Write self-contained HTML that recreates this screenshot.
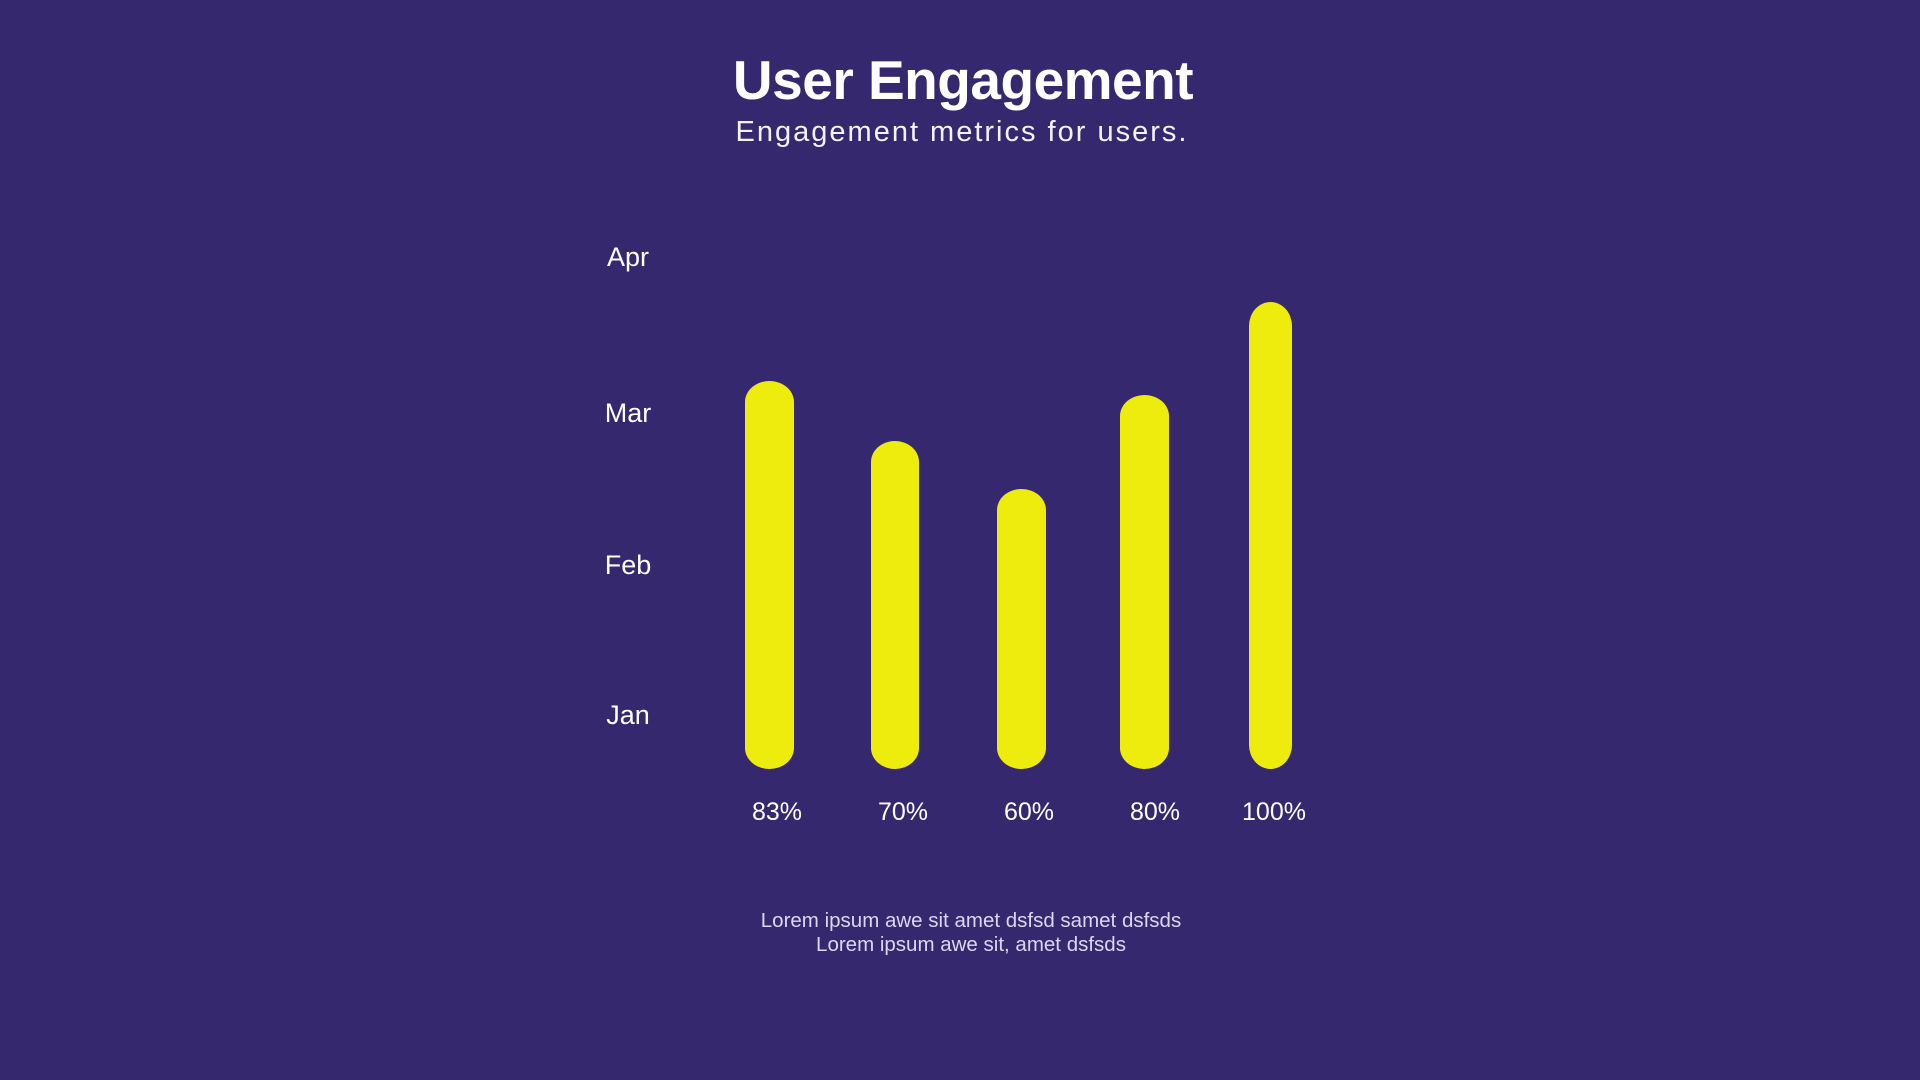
<!DOCTYPE html>
<html>
<head>
<meta charset="utf-8">
<style>
  html, body { margin: 0; padding: 0; }
  body {
    width: 1920px; height: 1080px; overflow: hidden;
    background: #35286e;
    position: relative;
    font-family: "Liberation Sans", "DejaVu Sans", sans-serif;
    color: #ffffff;
  }
  .t { position: absolute; white-space: nowrap; text-align: center; }
  .title { left: 463px; width: 1000px; top: 53px; font-size: 55px; line-height: 55px; font-weight: bold; letter-spacing: -0.5px; }
  .sub { left: 462px; width: 1000px; top: 118px; font-size: 29px; line-height: 29px; letter-spacing: 2px; color: #f4f2fa; }
  .ylab { left: 578px; width: 100px; font-size: 27px; line-height: 27px; }
  .pct { width: 120px; top: 800px; font-size: 25px; line-height: 25px; }
  .foot { left: 471px; width: 1000px; font-size: 20.5px; line-height: 20.5px; color: #dcd7f0; }
  .bar { position: absolute; background: #eeec0c; border-radius: 50% / 21px; }
</style>
</head>
<body>
  <div class="t title">User Engagement</div>
  <div class="t sub">Engagement metrics for users.</div>

  <div class="t ylab" style="top:244px;">Apr</div>
  <div class="t ylab" style="top:400px;">Mar</div>
  <div class="t ylab" style="top:552px;">Feb</div>
  <div class="t ylab" style="top:702px;">Jan</div>

  <div class="bar" style="left:745px; width:49px; top:381px; height:388px;"></div>
  <div class="bar" style="left:871px; width:48px; top:441px; height:328px;"></div>
  <div class="bar" style="left:997px; width:49px; top:489px; height:280px;"></div>
  <div class="bar" style="left:1120px; width:49px; top:395px; height:374px;"></div>
  <div class="bar" style="left:1249px; width:43px; top:302px; height:467px; border-radius: 50% / 24px;"></div>

  <div class="t pct" style="left:717px;">83%</div>
  <div class="t pct" style="left:843px;">70%</div>
  <div class="t pct" style="left:969px;">60%</div>
  <div class="t pct" style="left:1095px;">80%</div>
  <div class="t pct" style="left:1214px;">100%</div>

  <div class="t foot" style="top:911px;">Lorem ipsum awe sit amet dsfsd samet dsfsds</div>
  <div class="t foot" style="top:935px;">Lorem ipsum awe sit, amet dsfsds</div>
</body>
</html>
